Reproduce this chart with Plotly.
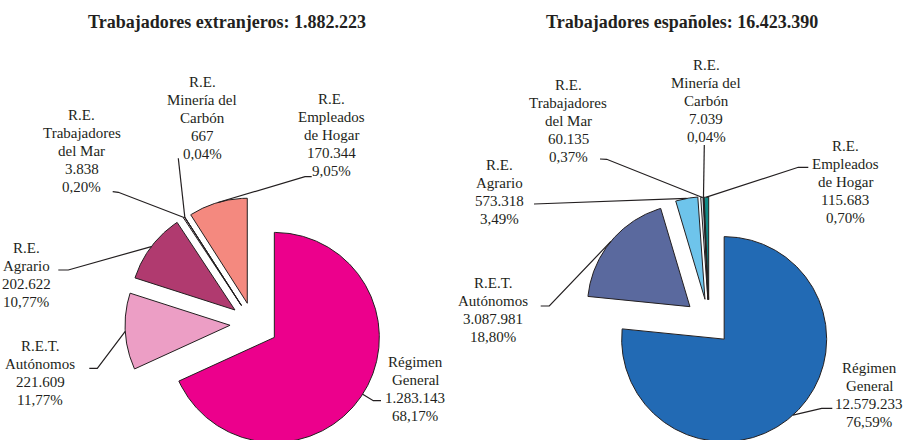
import numpy as np
import plotly.graph_objects as go

# categorias (con saltos de linea como en el original)
categorias = ["Régimen\nGeneral", "R.E.T.\nAutónomos", "R.E.\nAgrario",
              "R.E.\nTrabajadores\ndel Mar", "R.E.\nMinería del\nCarbón",
              "R.E.\nEmpleados\nde Hogar"]
extranjeros = [1283143, 221609, 202622, 3838, 667, 170344]
espanoles = [12579233, 3087981, 573318, 60135, 7039, 115683]
total_extranjeros = 1882223
total_espanoles = 16423390

colores_extranjeros = ["#EC008C", "#EC9EC5", "#B03A6F", "#E6C8D5", "#5B2C3F", "#F4897F"]
colores_espanoles = ["#226AB4", "#5A699E", "#6EC4EB", "#DDE3EA", "#4B3A2A", "#0F8B87"]

FONT = "Liberation Serif"
INK = "#231F20"


def miles(n):
    return f"{n:,}".replace(",", ".")


def pct(v, tot):
    return f"{v / tot * 100:.2f}".replace(".", ",") + "%"


def u(theta):
    t = np.radians(theta)
    return np.sin(t), -np.cos(t)


# layout de cada tarta: centro, radio, desplazamientos, etiquetas (en pixeles)
tartas = [
    dict(valores=extranjeros, colores=colores_extranjeros,
         titulo=f"Trabajadores extranjeros: {miles(total_extranjeros)}", tx=227,
         c=(253.3, 323.9), r=105, pull=[25, 23.3, 23, 22, 22, 21.5],
         lab=[(415, 361.7), (40, 346), (26, 248.3), (81.7, 115), (202, 81.7), (331.7, 99.3)],
         lead=[[(381, 400.7), (373.3, 400.7)], [(89.3, 368.3), (97.3, 368.3)],
               [(58.3, 270), (68.3, 270)], [(112.7, 191.7), (118.3, 192.3)],
               [(178.3, 158.3)], [(311.7, 176.7), (305, 176.7)]]),
    dict(valores=espanoles, colores=colores_espanoles,
         titulo=f"Trabajadores españoles: {miles(total_espanoles)}", tx=682,
         c=(709.2, 322.6), r=102.5, pull=[22.3, 25, 23.7, 23, 23, 23],
         lab=[(869, 368), (492.7, 282.7), (499, 165), (568, 85), (706, 65), (845, 146)],
         lead=[[(832.3, 408.3), (821.7, 408.3)], [(540.7, 306), (549.3, 306)],
               [(534, 204)], [(600, 159), (606.7, 159.3)],
               [(704.3, 145)], [(808.3, 167.3), (798.3, 167.3)]]),
]

fig = go.Figure()
anns = []

for t in tartas:
    vals = t["valores"]
    tot = sum(vals)
    cx, cy = t["c"]
    r = t["r"]
    a0 = 0.0
    for i, v in enumerate(vals):
        a1 = a0 + v / tot * 360
        mid = (a0 + a1) / 2
        ux, uy = u(mid)
        ax, ay = cx + t["pull"][i] * ux, cy + t["pull"][i] * uy
        th = np.linspace(a0, a1, max(2, int((a1 - a0) * 2)))
        xs = [ax] + list(ax + r * np.sin(np.radians(th))) + [ax]
        ys = [ay] + list(ay - r * np.cos(np.radians(th))) + [ay]
        fig.add_trace(go.Scatter(x=xs, y=ys, fill="toself", fillcolor=t["colores"][i],
                                 mode="lines", line=dict(color=INK, width=1),
                                 hoverinfo="skip", showlegend=False))
        # linea guia hasta el punto medio del arco
        ex, ey = ax + r * ux, ay + r * uy
        pts = t["lead"][i] + [(ex, ey)]
        fig.add_trace(go.Scatter(x=[p[0] for p in pts], y=[p[1] for p in pts],
                                 mode="lines", line=dict(color=INK, width=1.2),
                                 hoverinfo="skip", showlegend=False))
        # etiqueta, una anotacion por linea
        lineas = categorias[i].split("\n") + [miles(v), pct(v, tot)]
        lx, ly = t["lab"][i]
        for j, s in enumerate(lineas):
            anns.append(dict(x=lx, y=ly + j * 18, text=s, showarrow=False,
                             xanchor="center", yanchor="middle",
                             font=dict(family=FONT, size=15, color=INK)))
        a0 = a1
    anns.append(dict(x=t["tx"], y=22, text=f"<b>{t['titulo']}</b>", showarrow=False,
                     xanchor="center", yanchor="middle",
                     font=dict(family=FONT, size=18, color=INK)))

fig.update_layout(
    width=905, height=440, margin=dict(l=0, r=0, t=0, b=0),
    paper_bgcolor="white", plot_bgcolor="white",
    xaxis=dict(range=[0, 905], visible=False, fixedrange=True),
    yaxis=dict(range=[440, 0], visible=False, fixedrange=True),
    annotations=anns, showlegend=False,
)

# sin el margen por defecto del body la figura ocupa toda la ventana
fig.write_html("out.html", config={"displayModeBar": False},
               post_script="document.body.style.margin='0';"
                           "document.body.style.overflow='hidden';")
